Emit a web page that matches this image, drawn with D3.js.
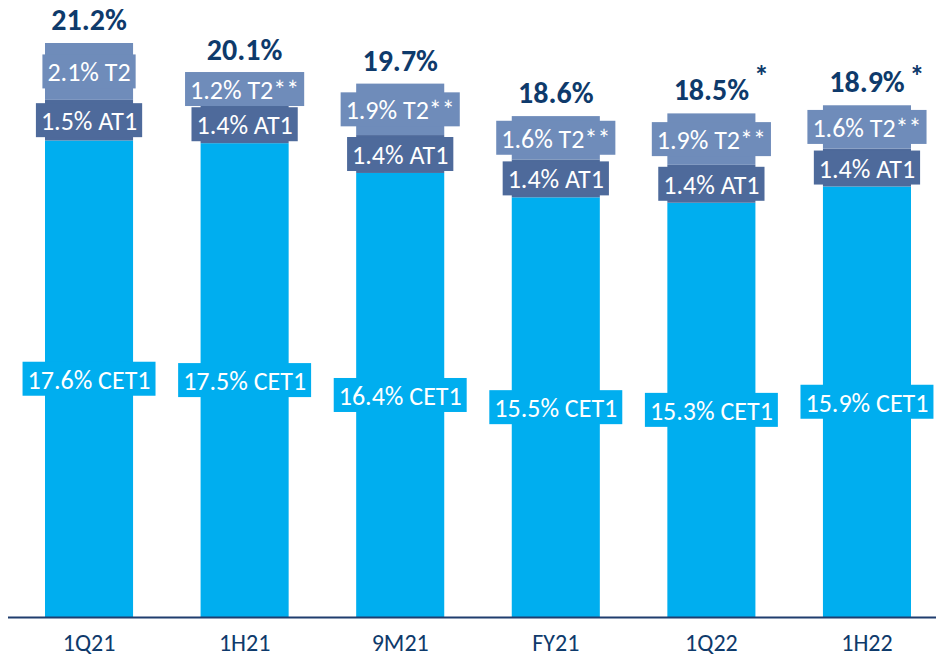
<!DOCTYPE html>
<html>
<head>
<meta charset="utf-8">
<script src="https://cdn.jsdelivr.net/npm/d3@7"></script>
<style>
  html, body { margin: 0; padding: 0; background: #ffffff; }
  svg { display: block; }
  text { font-family: Carlito, Lato, "Open Sans", sans-serif; }
</style>
</head>
<body>
<svg id="chart" width="936" height="656"></svg>
<script>
// Capital ratios by reporting period (% of RWA)
const periods = ["1Q21", "1H21", "9M21", "FY21", "1Q22", "1H22"];
const cet1 = [17.6, 17.5, 16.4, 15.5, 15.3, 15.9];
const at1  = [1.5, 1.4, 1.4, 1.4, 1.4, 1.4];
const t2   = [2.1, 1.2, 1.9, 1.6, 1.9, 1.6];
const totals = [21.2, 20.1, 19.7, 18.6, 18.5, 18.9];
const t2Names = ["T2", "T2**", "T2**", "T2**", "T2**", "T2**"];
const totalNotes = ["", "", "", "", "*", "*"];

const colors = { cet1: "#00AEEF", at1: "#4E6A9B", t2: "#6F8CBA", navy: "#0E3A6B", axis: "#1F3D6E" };

const svg = d3.select("#chart");
const W = 936, H = 656;
const baseY = 617;

const x = d3.scaleBand().domain(periods).range([45, 911]).paddingInner(0.434).paddingOuter(0);
const y = d3.scaleLinear().domain([0, 21.2]).range([baseY, 43]);

const fmt = d3.format(".1f");
const rows = periods.map((p, i) => {
  const s1 = cet1[i], s2 = s1 + at1[i], s3 = s2 + t2[i];
  return {
    p, i,
    segs: [
      { key: "cet1", y0: 0,  y1: s1, label: fmt(cet1[i]) + "% CET1", color: colors.cet1 },
      { key: "at1",  y0: s1, y1: s2, label: fmt(at1[i]) + "% AT1", color: colors.at1 },
      { key: "t2",   y0: s2, y1: s3, label: fmt(t2[i]) + "% " + t2Names[i], color: colors.t2 }
    ],
    top: s3,
    total: totals[i],
    note: totalNotes[i]
  };
});

// stacked segments
const gBars = svg.append("g");
rows.forEach(r => {
  gBars.selectAll(null).data(r.segs).enter().append("rect")
    .attr("x", x(r.p))
    .attr("width", x.bandwidth())
    .attr("y", d => y(d.y1))
    .attr("height", d => y(d.y0) - y(d.y1))
    .attr("fill", d => d.color);
});

// axis baseline
svg.append("line")
  .attr("x1", 8).attr("x2", W)
  .attr("y1", baseY + 0.5).attr("y2", baseY + 0.5)
  .attr("stroke", colors.axis).attr("stroke-width", 2);

// category labels
const xAxis = d3.axisBottom(x).tickSize(0).tickPadding(0);
const gx = svg.append("g").attr("transform", `translate(0,${baseY})`).call(xAxis);
gx.select(".domain").remove();
gx.selectAll("text")
  .attr("y", 34).attr("dy", 0)
  .attr("font-size", 24)
  .attr("fill", colors.navy)
  .style("font-family", "Carlito, Lato, sans-serif");

// segment value labels with their own background boxes
const gLab = svg.append("g");
rows.forEach(r => {
  r.segs.forEach(s => {
    const cx = x(r.p) + x.bandwidth() / 2;
    const cy = (y(s.y0) + y(s.y1)) / 2;
    const g = gLab.append("g");
    const box = g.append("rect").attr("fill", s.color);
    const t = g.append("text")
      .attr("x", cx).attr("y", cy + 10)
      .attr("text-anchor", "middle")
      .attr("font-size", 26)
      .attr("fill", "#ffffff")
      .text(s.label);
    const w = t.node().getComputedTextLength();
    box.attr("x", cx - w / 2 - 5).attr("width", w + 10)
       .attr("y", cy - 17).attr("height", 34);
  });
});

// totals above each bar
const gTot = svg.append("g");
rows.forEach(r => {
  const cx = x(r.p) + x.bandwidth() / 2;
  gTot.append("text")
    .attr("x", cx).attr("y", y(r.top) - 13)
    .attr("text-anchor", "middle")
    .attr("font-size", 30)
    .attr("font-weight", "bold")
    .attr("fill", colors.navy)
    .text(fmt(r.total) + "%");
  if (r.note) {
    gTot.append("text")
      .attr("x", cx + 50).attr("y", 86)
      .attr("text-anchor", "middle")
      .attr("font-size", 30)
      .attr("font-weight", "bold")
      .attr("fill", colors.navy)
      .text(r.note);
  }
});
</script>
</body>
</html>
